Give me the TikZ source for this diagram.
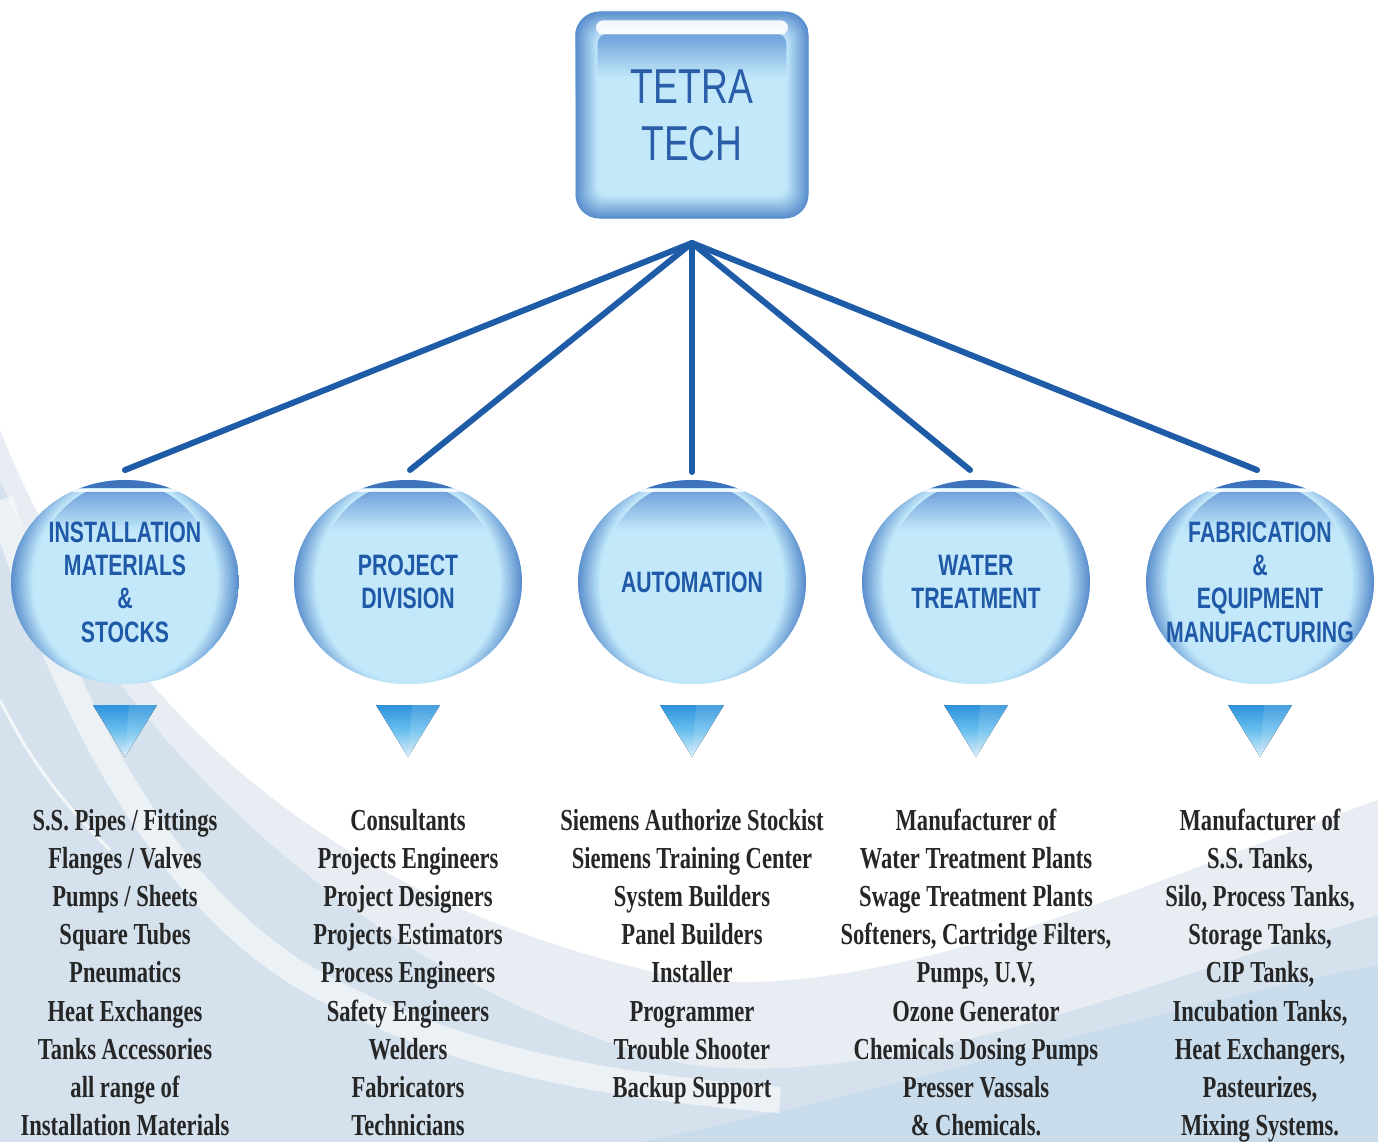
\documentclass[tikz,border=0pt]{standalone}
\usepackage{fontspec}
\setmainfont{Liberation Serif}
\newfontfamily\listfamily[FakeStretch=0.74]{Liberation Serif}
\newfontfamily\headfamily[FakeStretch=0.72]{Liberation Sans}
\newfontfamily\tetrafamily[FakeStretch=0.76]{Liberation Sans}
\usetikzlibrary{shapes.geometric}
\definecolor{bl1}{HTML}{C2E8FA}
\definecolor{bl2}{HTML}{A9D7F3}
\definecolor{bl3}{HTML}{6E9FDA}
\definecolor{bl4}{HTML}{4F85C8}
\definecolor{bcap}{HTML}{3F74BC}
\definecolor{hblue}{HTML}{1F59A7}
\definecolor{tblue}{HTML}{2A5EA8}
\definecolor{conn}{HTML}{1F5CA8}
\definecolor{txt}{HTML}{262626}
\definecolor{tri1}{HTML}{2E93DC}
\definecolor{tri2}{HTML}{6CC0EE}
\definecolor{tri3}{HTML}{DCEFFA}
\definecolor{bgA}{HTML}{E8EDF3}
\definecolor{bgB}{HTML}{D5E1EC}
\definecolor{bgC}{HTML}{C8DCEC}
\tikzset{
  bubblebox/.style={ellipse, minimum width=228pt, minimum height=204pt, inner sep=0pt, fill=bl1,
    path picture={
      \foreach \j in {0,...,15}{
        \pgfmathtruncatemacro\q{100-\j*6.5}
        \fill[bl3!\q!bl1] ([yshift={-10pt-\j*2.6pt}]path picture bounding box.north west) rectangle ([yshift={-13pt-\j*2.6pt}]path picture bounding box.north east);
      }
      \foreach \i in {0,...,11}{
        \pgfmathtruncatemacro\p{90-\i*8}
        \draw[bl4!\p!bl1, line width=2.3pt] (path picture bounding box.center) ellipse ({113-\i*1.9} and {122-\i*1.9});
      }
      \fill[bcap] (path picture bounding box.north west) rectangle ([yshift=-8pt]path picture bounding box.north east);
      \fill[white, opacity=.85] ([xshift=-110pt,yshift=-9pt]path picture bounding box.north) rectangle ([xshift=110pt,yshift=-12pt]path picture bounding box.north);
    }},
  headtext/.style={align=center, inner sep=0pt, text=hblue, font=\headfamily\bfseries\fontsize{29.5}{33.3}\selectfont},
  tbox/.style={rectangle, rounded corners=24pt, minimum width=233pt, minimum height=207pt, inner sep=0pt, fill=bl1,
    align=center, text=tblue, font=\tetrafamily\fontsize{49}{57}\selectfont,
    path picture={
      \foreach \j in {0,...,15}{
        \pgfmathtruncatemacro\q{100-\j*6.5}
        \fill[bl3!\q!bl1] ([yshift={-22pt-\j*2.8pt}]path picture bounding box.north west) rectangle ([yshift={-25.2pt-\j*2.8pt}]path picture bounding box.north east);
      }
      \foreach \i in {0,...,11}{
        \pgfmathtruncatemacro\p{95-\i*8}
        \draw[bl4!\p!bl1, line width=2.4pt, rounded corners={max(24-\i*1.2,4)*1pt}] ([shift={(\i*1.9pt,-\i*1.9pt)}]path picture bounding box.north west) rectangle ([shift={(-\i*1.9pt,\i*1.9pt)}]path picture bounding box.south east);
      }
      \fill[white, opacity=.9, rounded corners=7pt] ([xshift=-96pt,yshift=-9pt]path picture bounding box.north) rectangle ([xshift=96pt,yshift=-23pt]path picture bounding box.north);
    }},
  listtext/.style={anchor=base, inner sep=0pt, text=txt, font=\listfamily\bfseries\fontsize{30.5}{38}\selectfont},
  connline/.style={draw=conn, line width=6pt, line cap=round},
  tri/.style={top color=tri1, bottom color=tri3, middle color=tri2}
}
\begin{document}
\begin{tikzpicture}[x=1pt,y=-1pt]
\useasboundingbox (0,0) rectangle (1378,1142);
\fill[white] (0,0) rectangle (1378,1142);
% background swooshes
\fill[bgA] (0,430) .. controls (100,680) and (300,900) .. (690,980) .. controls (900,1000) and (1150,880) .. (1378,800) -- (1378,1142) -- (0,1142) -- cycle;
\fill[bgB] (0,480) .. controls (120,760) and (400,1000) .. (690,1065) .. controls (900,1090) and (1150,980) .. (1378,915) -- (1378,1142) -- (0,1142) -- cycle;
\fill[bgC] (640,1142) .. controls (900,1090) and (1150,1010) .. (1378,965) -- (1378,1142) -- cycle;
\draw[white, line width=26pt, opacity=.55] (0,500) .. controls (60,690) and (150,880) .. (300,975) .. controls (450,1060) and (600,1085) .. (780,1100);
\draw[white, line width=3pt, opacity=.7] (0,700) .. controls (30,760) and (60,800) .. (110,850);

% top box
\node[tbox] (tt) at (692,115) {TETRA\\TECH};

% connectors
\coordinate (hub) at (692,243);
\coordinate (e1) at (125,470);
\coordinate (e2) at (410,470);
\coordinate (e3) at (692,472);
\coordinate (e4) at (970,470);
\coordinate (e5) at (1257,470);
\foreach \e in {e1,e2,e3,e4,e5}{\draw[connline] (hub) -- (\e);}

% bubbles
\node[bubblebox] (c1) at (125,582) {};
\node[bubblebox] (c2) at (408,582) {};
\node[bubblebox] (c3) at (692,582) {};
\node[bubblebox] (c4) at (976,582) {};
\node[bubblebox] (c5) at (1260,582) {};
\node[headtext] (h1) at (c1) {INSTALLATION\\MATERIALS\\\&\\STOCKS};
\node[headtext] (h2) at (c2) {PROJECT\\DIVISION};
\node[headtext] (h3) at (c3) {AUTOMATION};
\node[headtext] (h4) at (c4) {WATER\\TREATMENT};
\node[headtext] (h5) at (c5) {FABRICATION\\\&\\EQUIPMENT\\MANUFACTURING};

% triangles
\foreach \x in {125,408,692,976,1260}{
  \fill[tri] (\x-32,705) -- (\x+32,705) -- (\x,757) -- cycle;
  \fill[white, opacity=.12] (\x+4,705) -- (\x+32,705) -- (\x,757) -- cycle;
}

% lists
\foreach \t [count=\k] in {{S.S. Pipes / Fittings},{Flanges / Valves},{Pumps / Sheets},{Square Tubes},{Pneumatics},{Heat Exchanges},{Tanks Accessories},{all range of},{Installation Materials}}
  {\node[listtext] (la\k) at (125,{830+38.2*(\k-1)}) {\t};}
\foreach \t [count=\k] in {{Consultants},{Projects Engineers},{Project Designers},{Projects Estimators},{Process Engineers},{Safety Engineers},{Welders},{Fabricators},{Technicians}}
  {\node[listtext] (lb\k) at (408,{830+38.2*(\k-1)}) {\t};}
\foreach \t [count=\k] in {{Siemens Authorize Stockist},{Siemens Training Center},{System Builders},{Panel Builders},{Installer},{Programmer},{Trouble Shooter},{Backup Support}}
  {\node[listtext] (lc\k) at (692,{830+38.2*(\k-1)}) {\t};}
\foreach \t [count=\k] in {{Manufacturer of},{Water Treatment Plants},{Swage Treatment Plants},{Softeners, Cartridge Filters,},{Pumps, U.V,},{Ozone Generator},{Chemicals Dosing Pumps},{Presser Vassals},{\& Chemicals.}}
  {\node[listtext] (ld\k) at (976,{830+38.2*(\k-1)}) {\t};}
\foreach \t [count=\k] in {{Manufacturer of},{S.S. Tanks,},{Silo, Process Tanks,},{Storage Tanks,},{CIP Tanks,},{Incubation Tanks,},{Heat Exchangers,},{Pasteurizes,},{Mixing Systems.}}
  {\node[listtext] (le\k) at (1260,{830+38.2*(\k-1)}) {\t};}
\end{tikzpicture}
\end{document}
